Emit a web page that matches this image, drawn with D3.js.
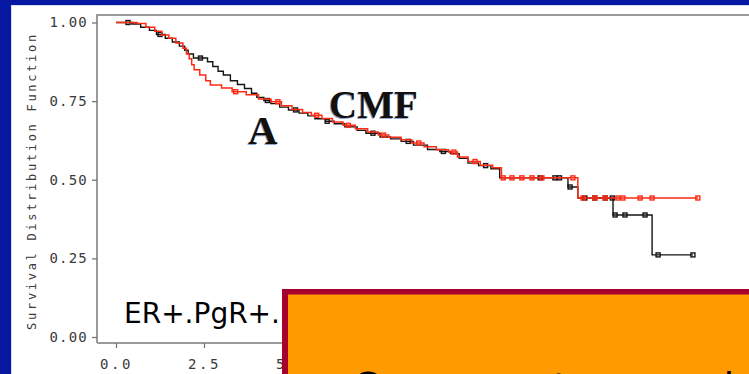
<!DOCTYPE html>
<html>
<head>
<meta charset="utf-8">
<script src="https://cdn.jsdelivr.net/npm/d3@7"></script>
<style>
  html, body { margin: 0; padding: 0; background: #ffffff; }
  svg { display: block; }
</style>
</head>
<body>
<svg id="chart" width="749" height="374"></svg>
<script>
// Kaplan-Meier step data: time (years) at which survival changes, and survival from that time on
const timesA = [0.00, 0.45, 0.70, 0.95, 1.15, 1.40, 1.60, 1.80, 1.95, 2.05, 2.20, 2.60, 2.75, 2.90, 3.05,
  3.25, 3.45, 3.65, 3.85, 4.00, 4.20, 4.40, 4.65, 4.90, 5.20, 5.45, 5.65, 5.95, 6.20, 6.50, 6.85, 7.10,
  7.50, 7.80, 8.10, 8.45, 8.85, 9.20, 9.50, 9.75, 10.00, 10.30, 10.65, 10.90, 12.84, 13.12, 14.12, 15.23, 16.39];
const survA = [1.000, 0.995, 0.985, 0.975, 0.962, 0.950, 0.938, 0.925, 0.912, 0.900, 0.887, 0.875, 0.860, 0.845, 0.833,
  0.815, 0.803, 0.790, 0.775, 0.762, 0.752, 0.742, 0.731, 0.722, 0.712, 0.703, 0.694, 0.686, 0.678, 0.668, 0.657, 0.648,
  0.636, 0.630, 0.622, 0.610, 0.596, 0.590, 0.583, 0.568, 0.553, 0.545, 0.535, 0.506, 0.477, 0.442, 0.388, 0.261, 0.261];

const timesCMF = [0.00, 0.60, 0.85, 1.10, 1.30, 1.50, 1.70, 1.90, 2.00, 2.08, 2.15, 2.22, 2.38, 2.55, 2.68,
  3.00, 3.30, 3.70, 4.05, 4.40, 4.70, 5.00, 5.30, 5.55, 5.85, 6.15, 6.45, 6.80, 7.15, 7.45, 7.75, 8.10,
  8.40, 8.75, 9.10, 9.45, 9.70, 10.00, 10.35, 10.70, 10.95, 13.12, 16.53];
const survCMF = [1.000, 0.997, 0.985, 0.972, 0.960, 0.950, 0.935, 0.918, 0.900, 0.885, 0.866, 0.850, 0.833, 0.815, 0.801,
  0.792, 0.780, 0.770, 0.757, 0.748, 0.735, 0.723, 0.714, 0.705, 0.695, 0.684, 0.673, 0.662, 0.652, 0.642, 0.635, 0.627,
  0.617, 0.605, 0.595, 0.588, 0.572, 0.558, 0.546, 0.538, 0.506, 0.442, 0.442];

// Censored observations (time, survival at that time)
const censorTimesA = [0.34, 1.25, 2.40, 4.30, 5.10, 6.00, 7.30, 8.30, 9.30, 10.50, 12.05, 12.47, 12.60, 12.90,
  13.32, 13.60, 13.90, 14.10, 14.18, 14.46, 15.03, 15.40, 16.39];
const censorSurvA = [1.000, 0.962, 0.887, 0.752, 0.722, 0.686, 0.648, 0.622, 0.590, 0.545, 0.506, 0.506, 0.506, 0.477,
  0.442, 0.442, 0.442, 0.442, 0.388, 0.388, 0.388, 0.261, 0.261];

const censorTimesCMF = [3.40, 4.60, 5.70, 6.60, 7.60, 8.60, 9.60, 10.20, 11.00, 11.25, 11.53, 11.82, 12.10, 12.98,
  13.27, 13.60, 13.90, 14.26, 14.40, 14.89, 15.23, 16.53];
const censorSurvCMF = [0.780, 0.748, 0.705, 0.673, 0.642, 0.617, 0.588, 0.558, 0.506, 0.506, 0.506, 0.506, 0.506, 0.506,
  0.442, 0.442, 0.442, 0.442, 0.442, 0.442, 0.442, 0.442];

// Axis ticks (the later x ticks sit under the call-out box)
const yTicks = [0.00, 0.25, 0.50, 0.75, 1.00];
const xTicks = [0.0, 2.5, 5.0];

const svg = d3.select("#chart");
const W = 749, H = 374;

// Slide background: dark blue frame with white panel
svg.append("rect").attr("x", 0).attr("y", 0).attr("width", W).attr("height", H).attr("fill", "#0618a2");
svg.append("rect").attr("x", 11).attr("y", 5).attr("width", W - 11).attr("height", H - 5).attr("fill", "#d8def4");
svg.append("rect").attr("x", 12).attr("y", 6).attr("width", W - 12).attr("height", H - 6).attr("fill", "#ffffff");

const x = d3.scaleLinear().domain([0, 20]).range([116, 116 + 20 * 35.2]);
const y = d3.scaleLinear().domain([0, 1]).range([337, 22.5]);

const frameLeft = 97, frameTop = 15, frameBottom = 343;
const axisColor = "#9a9a9a";

// Plot frame (top, left, bottom)
const frame = svg.append("g").attr("stroke", axisColor).attr("stroke-width", 2).attr("fill", "none");
frame.append("path").attr("d", `M${frameLeft},${frameBottom} V${frameTop} H${W}`);
frame.append("path").attr("d", `M${frameLeft},${frameBottom} H${W}`);

const monoFont = "'DejaVu Sans Mono', 'Liberation Mono', monospace";

// Y axis
const yAxis = svg.append("g")
  .attr("transform", `translate(${frameLeft},0)`)
  .call(d3.axisLeft(y).tickValues(yTicks).tickFormat(d3.format(".2f")).tickSize(5).tickPadding(4));
yAxis.select(".domain").remove();
yAxis.selectAll(".tick line").attr("stroke", "#777").attr("stroke-width", 1.3);
yAxis.selectAll(".tick text")
  .attr("fill", "#3a3a3a").attr("font-family", monoFont).attr("font-size", 14)
  .attr("letter-spacing", 1.2);

// X axis
const xAxis = svg.append("g")
  .attr("transform", `translate(0,${frameBottom})`)
  .call(d3.axisBottom(x).tickValues(xTicks).tickFormat(d3.format(".1f")).tickSize(5).tickPadding(11));
xAxis.select(".domain").remove();
xAxis.selectAll(".tick line").attr("stroke", "#777").attr("stroke-width", 1.3);
xAxis.selectAll(".tick text")
  .attr("fill", "#3a3a3a").attr("font-family", monoFont).attr("font-size", 14)
  .attr("letter-spacing", 2.5);

// Y axis title
svg.append("text")
  .attr("transform", "translate(36,181) rotate(-90)")
  .attr("text-anchor", "middle")
  .attr("font-family", monoFont).attr("font-size", 12)
  .attr("letter-spacing", 2.7)
  .attr("fill", "#3a3a3a")
  .text("Survival Distribution Function");

// Survival curves
function stepPoints(times, surv) {
  return times.map((t, i) => [t, surv[i]]);
}
const line = d3.line().x(d => x(d[0])).y(d => y(d[1])).curve(d3.curveStepAfter);

function drawArm(times, surv, cTimes, cSurv, color, width) {
  const g = svg.append("g");
  g.append("path")
    .datum(stepPoints(times, surv))
    .attr("d", line)
    .attr("fill", "none")
    .attr("stroke", color)
    .attr("stroke-width", width)
    .attr("stroke-linejoin", "miter");
  g.selectAll("rect.censor")
    .data(cTimes.map((t, i) => [t, cSurv[i]]))
    .join("rect")
    .attr("class", "censor")
    .attr("x", d => x(d[0]) - 2)
    .attr("y", d => y(d[1]) - 2)
    .attr("width", 4).attr("height", 4)
    .attr("fill", "none")
    .attr("stroke", color)
    .attr("stroke-width", 1.4);
}
drawArm(timesA, survA, censorTimesA, censorSurvA, "#151515", 1.4);
drawArm(timesCMF, survCMF, censorTimesCMF, censorSurvCMF, "#ff2a14", 1.5);

// Arm labels
function armLabel(txt, lx, ly, size) {
  svg.append("text").attr("x", lx - 1).attr("y", ly + 1)
    .attr("font-family", "'Liberation Serif', 'Times New Roman', serif")
    .attr("font-weight", "bold").attr("font-size", size)
    .attr("fill", "#4a6fc0").attr("opacity", 0.6).text(txt);
  svg.append("text").attr("x", lx).attr("y", ly)
    .attr("font-family", "'Liberation Serif', 'Times New Roman', serif")
    .attr("font-weight", "bold").attr("font-size", size)
    .attr("fill", "#14110c").text(txt);
}
armLabel("A", 248, 144, 41);
armLabel("CMF", 329, 118, 39);

// Subgroup caption
svg.append("text")
  .attr("x", 124).attr("y", 323)
  .attr("font-family", "'DejaVu Sans', sans-serif").attr("font-size", 28)
  .attr("fill", "#000")
  .text("ER+.PgR+.");

// Orange call-out box overlapping the lower right of the plot
svg.append("rect").attr("x", 282).attr("y", 289).attr("width", W - 282).attr("height", H - 289).attr("fill", "#a8002c");
svg.append("rect").attr("x", 288).attr("y", 294.5).attr("width", W - 288).attr("height", H - 294.5).attr("fill", "#ff9a00");
svg.append("text")
  .attr("x", 352).attr("y", 401)
  .attr("font-family", "'DejaVu Sans', sans-serif").attr("font-size", 39)
  .attr("fill", "#000")
  .text("Concurrent arms, similar outcome");
</script>
</body>
</html>
